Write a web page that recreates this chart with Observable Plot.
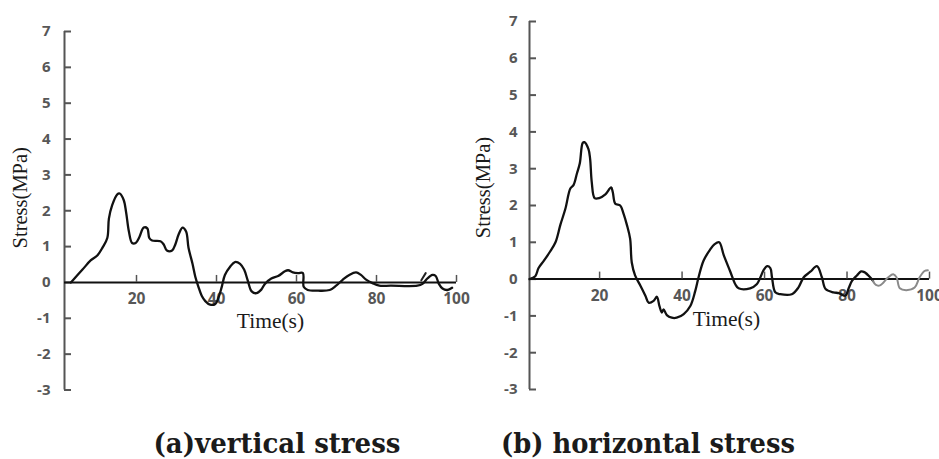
<!DOCTYPE html>
<html>
<head>
<meta charset="utf-8">
<script src="https://cdn.jsdelivr.net/npm/d3@7"></script>
<script src="https://cdn.jsdelivr.net/npm/@observablehq/plot@0.6"></script>
<style>
  body { margin: 0; background: #fff; }
  #fig { position: relative; width: 939px; height: 459px; overflow: hidden; background: #fff; }
  .panel { position: absolute; top: 0; }
  .panel svg { display: block; overflow: hidden; }
  .cap {
    position: absolute; top: 430px;
    font-family: "DejaVu Serif", "Liberation Serif", serif;
    font-weight: 700; font-size: 27px; line-height: 27px; color: #1b1b1b;
    white-space: nowrap; transform: translateX(-50%);
  }
</style>
</head>
<body>
<div id="fig">
  <div class="panel" id="pa" style="left:0px"></div>
  <div class="panel" id="pb" style="left:470px"></div>
  <div class="cap" style="left:277px" data-w="247">(a)vertical stress</div>
  <div class="cap" style="left:648px" data-w="294">(b) horizontal stress</div>
</div>
<script>
// Axis ticks shared by both panels
const yTicks = [-3, -2, -1, 0, 1, 2, 3, 4, 5, 6, 7];
const xTicks = [20, 40, 60, 80, 100];
const yDomain = [-3, 7];

// (a) vertical stress record
const vTime = [3.6, 6.5, 8.6, 10.2, 11.5, 12.7, 13.1, 13.9, 15.2, 15.8, 16.8, 17.4, 18.1, 18.9, 19.8,
  20.7, 21.8, 22.7, 23.2, 23.9, 26.0, 26.8, 27.6, 28.9, 29.7, 30.5, 31.5, 32.4, 33.0, 34.0, 34.7,
  35.5, 36.3, 37.2, 38.4, 39.7, 40.5, 41.3, 42.1, 43.4, 44.6, 45.9, 46.9, 47.8, 48.8, 50.0, 51.2,
  52.1, 53.7, 55.4, 57.1, 57.9, 59.1, 60.4, 61.6, 61.8, 62.8, 65.4, 68.3, 69.9, 71.6, 73.2, 74.9,
  76.1, 77.4, 79.0, 80.7, 83.6, 90.2, 91.5, 92.7, 94.0, 94.8, 95.6, 96.5, 97.7, 98.9];
const vStress = [0, 0.36, 0.62, 0.75, 0.97, 1.24, 1.78, 2.15, 2.46, 2.48, 2.3, 1.96, 1.42, 1.1, 1.1,
  1.26, 1.53, 1.51, 1.24, 1.17, 1.15, 1.06, 0.89, 0.89, 1.06, 1.33, 1.53, 1.42, 0.97, 0.52, 0.16,
  -0.13, -0.37, -0.52, -0.62, -0.6, -0.42, -0.13, 0.21, 0.44, 0.57, 0.52, 0.36, 0.06, -0.25, -0.3, -0.2,
  -0.04, 0.11, 0.18, 0.31, 0.34, 0.28, 0.26, 0.26, -0.12, -0.21, -0.23, -0.21, -0.09, 0.08, 0.21, 0.28,
  0.21, 0.08, -0.02, -0.09, -0.09, -0.09, -0.04, 0.11, 0.21, 0.18, -0.04, -0.17, -0.21, -0.15];
// short stray stroke near t = 91 s
const vStrokeTime = [91.2, 92.3];
const vStrokeStress = [0.06, 0.26];

// (b) horizontal stress record
const hTime = [3.0, 4.4, 5.2, 6.5, 8.0, 9.3, 10.5, 11.7, 12.9, 13.7, 14.5, 15.2, 15.9, 16.3, 17.3,
  17.7, 18.1, 18.8, 19.9, 21.4, 22.8, 23.2, 23.8, 25.0, 25.8, 26.6, 27.4, 27.8, 28.6, 29.9, 31.1,
  31.9, 33.1, 33.9, 34.5, 35.1, 35.5, 36.3, 37.5, 38.7, 40.4, 42.0, 43.2, 44.0, 45.2, 46.8, 47.9,
  49.0, 50.1, 51.7, 52.9, 53.7, 56.5, 58.1, 59.8, 60.6, 61.4, 61.8, 62.6, 63.8, 66.6, 68.2, 69.5,
  71.1, 72.7, 73.9, 74.8, 76.7, 78.0, 79.6, 80.4, 81.2, 82.4, 83.4, 84.2, 85.6, 86.3];
const hStress = [0, 0.08, 0.3, 0.5, 0.75, 1.0, 1.48, 1.91, 2.46, 2.56, 2.87, 3.15, 3.7, 3.72, 3.53,
  3.27, 2.63, 2.2, 2.2, 2.3, 2.49, 2.36, 2.05, 2.0, 1.78, 1.48, 1.1, 0.45, 0.1, -0.18, -0.45,
  -0.64, -0.59, -0.48, -0.73, -0.91, -0.82, -0.98, -1.05, -1.05, -0.95, -0.73, -0.32, 0.05, 0.5, 0.8, 0.95,
  1.0, 0.65, 0.2, -0.14, -0.25, -0.25, -0.14, 0.25, 0.35, 0.3, 0.05, -0.36, -0.41, -0.41, -0.23, 0.05,
  0.2, 0.35, 0.05, -0.27, -0.36, -0.38, -0.45, -0.25, -0.05, 0.1, 0.21, 0.19, 0.05, -0.05];
// lighter trailing part of the horizontal record
const hTailTime = [86.3, 87.0, 88.0, 90.0, 91.2, 92.0, 92.8, 94.4, 96.4, 97.6, 98.8, 99.6];
const hTailStress = [-0.05, -0.16, -0.17, 0.05, 0.13, 0.05, -0.25, -0.3, -0.23, 0.05, 0.22, 0.24];

const zip = (t, s) => t.map((d, i) => ({time: d, stress: s[i]}));

function panel(cfg) {
  const x0 = cfg.xDomain[0];
  const tickFont = {fontFamily: "'Open Sans', 'DejaVu Sans', sans-serif", fontWeight: 700, fontSize: 15, fill: "#575757"};
  const serif = {fontFamily: "'Liberation Serif', 'DejaVu Serif', serif", fill: "#1a1a1a"};
  const marks = [
    // y axis line and inward ticks
    Plot.ruleX([x0], {stroke: "#555", strokeWidth: 2}),
    Plot.ruleY(yTicks, {y: d => d, x1: x0, x2: x0, insetRight: -7, stroke: "#555", strokeWidth: 2}),
    Plot.text(yTicks, {x: x0, y: d => d, text: d => String(d), textAnchor: "end", dx: cfg.yLabelDx, ...tickFont}),
    // zero line acting as the time axis
    Plot.ruleY([0], {x1: x0, x2: cfg.xDomain[1], stroke: "#111", strokeWidth: 2}),
    Plot.ruleX(xTicks, {x: d => d, y1: 0, y2: 0, insetTop: -7, stroke: "#555", strokeWidth: 1.5}),
    Plot.text(xTicks, {x: d => d, y: 0, text: d => String(d), dy: 17, ...tickFont, fontSize: 15.5}),
    // axis titles
    Plot.text(["Stress(MPa)"], {frameAnchor: "left", text: d => d, rotate: -90, textAnchor: "middle",
      lineAnchor: "middle", dx: cfg.stressDx, dy: cfg.stressDy, fontSize: 20.5, ...serif}),
    Plot.text(["Time(s)"], {frameAnchor: "middle", text: d => d, textAnchor: "middle",
      lineAnchor: "middle", dx: cfg.timeDx, dy: cfg.timeDy, fontSize: 21.5, ...serif}),
    // stress history
    Plot.line(cfg.series, {x: "time", y: "stress", stroke: "#111", strokeWidth: 2.3, curve: "catmull-rom"})
  ];
  if (cfg.extra) marks.push(Plot.line(cfg.extra, {x: "time", y: "stress", stroke: cfg.extraColor, strokeWidth: 2, curve: "catmull-rom"}));
  return Plot.plot({
    width: cfg.width,
    height: 400,
    marginLeft: cfg.marginLeft,
    marginRight: cfg.marginRight,
    marginTop: cfg.marginTop,
    marginBottom: cfg.marginBottom,
    x: {domain: cfg.xDomain, axis: null},
    y: {domain: yDomain, axis: null},
    style: {background: "transparent", overflow: "hidden"},
    marks
  });
}

document.getElementById("pa").append(panel({
  width: 470, marginLeft: 64, marginRight: 14, marginTop: 31, marginBottom: 10.5,
  xDomain: [2, 100], yLabelDx: -14,
  stressDx: -44, stressDy: -13, timeDx: 10, timeDy: 110,
  series: zip(vTime, vStress),
  extra: zip(vStrokeTime, vStrokeStress), extraColor: "#222"
}));

document.getElementById("pb").append(panel({
  width: 469, marginLeft: 59, marginRight: 10, marginTop: 21, marginBottom: 11,
  xDomain: [3, 100], yLabelDx: -12,
  stressDx: -46, stressDy: -18, timeDx: -3, timeDy: 114,
  series: zip(hTime, hStress),
  extra: zip(hTailTime, hTailStress), extraColor: "#8a8a8a"
}));

// condense the panel captions to their printed width
for (const el of document.querySelectorAll(".cap")) {
  const w = el.getBoundingClientRect().width;
  el.style.transform = `translateX(-50%) scaleX(${(+el.dataset.w / w).toFixed(3)})`;
}
</script>
</body>
</html>
